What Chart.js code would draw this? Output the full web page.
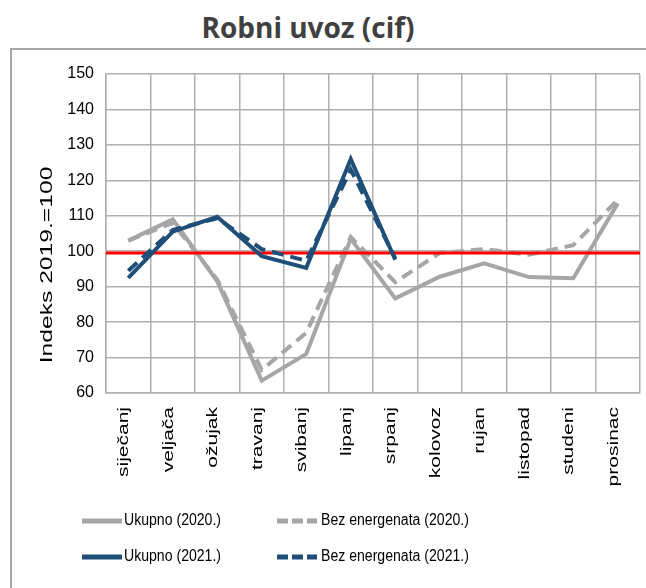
<!DOCTYPE html>
<html lang="hr">
<head>
    <meta charset="UTF-8">
    <title>Robni uvoz (cif)</title>
    <script src="https://cdn.jsdelivr.net/npm/chart.js"></script>
    <style>
        html, body {
            margin: 0;
            padding: 0;
            background: #fff;
            overflow: hidden;
        }
        .wrap {
            position: relative;
            width: 646px;
            height: 588px;
        }
        /* gray frame that runs off the right and bottom edge */
        .frame {
            position: absolute;
            left: 10px;
            top: 48px;
            width: 700px;
            height: 600px;
            border-left: 2px solid #a6a6a6;
            border-top: 2px solid #a6a6a6;
        }
        .title {
            position: absolute;
            left: 0;
            width: 616px;
            top: 13px;
            line-height: 28px;
            text-align: center;
            font-family: "Open Sans", sans-serif;
            font-weight: bold;
            font-size: 28px;
            color: #404040;
            white-space: nowrap;
        }
        #chart {
            position: absolute;
            left: 0;
            top: 0;
        }
    </style>
</head>
<body>
    <div class="wrap">
        <div class="frame"></div>
        <div class="title">Robni uvoz (cif)</div>
        <canvas id="chart" width="646" height="588"></canvas>
    </div>

    <script>
        // months
        var months = ['siječanj', 'veljača', 'ožujak', 'travanj', 'svibanj', 'lipanj',
                      'srpanj', 'kolovoz', 'rujan', 'listopad', 'studeni', 'prosinac'];

        // index values, 2019 = 100
        var ukupno2020 = [103, 109, 91.5, 63.5, 71, 103.5, 86.7, 92.8, 96.6, 92.7, 92.4, 113.5];
        var bezEnergenata2020 = [103, 108, 92, 66.5, 77, 104, 91.3, 99.5, 100.6, 99, 101.7, 114.5];
        var ukupno2021 = [92.5, 105.5, 109.7, 98.6, 95.3, 126, 97.6];
        var bezEnergenata2021 = [94.5, 106, 109.3, 100.6, 97.3, 123, 98];

        // reference line
        var refLevel = 99.5;

        var yTicks = [60, 70, 80, 90, 100, 110, 120, 130, 140, 150];
        var yTitle = 'Indeks 2019.=100';

        var gray = '#a6a6a6';
        var navy = '#1f4e79';
        var textFont = '"Liberation Sans", Arial, sans-serif';

        // rotated text in the original is drawn stretched along its length
        function drawRotated(ctx, text, x, y, align, stretch) {
            ctx.save();
            ctx.translate(x, y);
            ctx.rotate(-Math.PI / 2);
            ctx.scale(stretch, 1);
            ctx.textAlign = align;
            ctx.textBaseline = 'middle';
            ctx.fillText(text, 0, 0);
            ctx.restore();
        }

        // reference line drawn under the 2021 lines but over the 2020 lines
        var refLinePlugin = {
            id: 'refLine',
            beforeDatasetDraw: function(chart, args) {
                if (args.index !== 1) return;
                var ctx = chart.ctx;
                var y = chart.scales.y.getPixelForValue(refLevel);
                ctx.save();
                ctx.strokeStyle = '#ff0000';
                ctx.lineWidth = 3;
                ctx.beginPath();
                ctx.moveTo(chart.chartArea.left, y);
                ctx.lineTo(chart.chartArea.right, y);
                ctx.stroke();
                ctx.restore();
            }
        };

        // month labels and the y axis title
        var axisTextPlugin = {
            id: 'axisText',
            afterDraw: function(chart) {
                var ctx = chart.ctx;
                var xs = chart.scales.x;
                ctx.save();
                ctx.fillStyle = '#000';
                ctx.font = '15px ' + textFont;
                months.forEach(function(m, i) {
                    drawRotated(ctx, m, xs.getPixelForTick(i) - 4, chart.chartArea.bottom + 14, 'right', 1.4);
                });
                ctx.font = '17px ' + textFont;
                drawRotated(ctx, yTitle, 47, 265, 'center', 1.45);
                ctx.restore();
            }
        };

        // legend in two rows / two columns like the original
        var legendPlugin = {
            id: 'legend2x2',
            afterDraw: function(chart) {
                var ctx = chart.ctx;
                var order = [2, 3, 0, 1]; // Ukupno 2020, Bez 2020, Ukupno 2021, Bez 2021
                var cols = [82, 277];
                var rows = [521, 557];
                ctx.save();
                ctx.font = '16px ' + textFont;
                ctx.fillStyle = '#000';
                ctx.textBaseline = 'middle';
                order.forEach(function(di, i) {
                    var ds = chart.data.datasets[di];
                    var dashed = ds.borderDash && ds.borderDash.length;
                    var x = cols[i % 2];
                    var y = rows[Math.floor(i / 2)];
                    ctx.strokeStyle = ds.borderColor;
                    ctx.lineWidth = 5;
                    ctx.setLineDash(dashed ? [11, 4] : []);
                    ctx.beginPath();
                    ctx.moveTo(x, y);
                    ctx.lineTo(x + 40, y);
                    ctx.stroke();
                    ctx.setLineDash([]);
                    ctx.save();
                    ctx.translate(x + (dashed ? 44 : 42), y);
                    ctx.scale(0.88, 1);
                    ctx.fillText(ds.label, 0, 0);
                    ctx.restore();
                });
                ctx.restore();
            }
        };

        var ctx = document.getElementById('chart').getContext('2d');
        var chart = new Chart(ctx, {
            type: 'line',
            data: {
                labels: months,
                datasets: [{
                    label: 'Ukupno (2021.)',
                    data: ukupno2021,
                    borderColor: navy,
                    borderWidth: 4
                }, {
                    label: 'Bez energenata (2021.)',
                    data: bezEnergenata2021,
                    borderColor: navy,
                    borderWidth: 4,
                    borderDash: [12, 7]
                }, {
                    label: 'Ukupno (2020.)',
                    data: ukupno2020,
                    borderColor: gray,
                    borderWidth: 4
                }, {
                    label: 'Bez energenata (2020.)',
                    data: bezEnergenata2020,
                    borderColor: gray,
                    borderWidth: 4,
                    borderDash: [12, 7]
                }]
            },
            options: {
                responsive: false,
                animation: false,
                devicePixelRatio: 1,
                elements: {
                    point: { radius: 0 },
                    line: { tension: 0, fill: false }
                },
                layout: {
                    padding: { left: 30, right: 6, top: 74, bottom: 0 }
                },
                plugins: {
                    legend: { display: false },
                    tooltip: { enabled: false }
                },
                scales: {
                    x: {
                        offset: true,
                        grid: {
                            offset: true,
                            color: '#b0b0b0',
                            lineWidth: 1.5,
                            drawTicks: false
                        },
                        border: { color: '#b0b0b0', width: 1.5 },
                        ticks: { display: false },
                        afterFit: function(scale) { scale.height = 195; }
                    },
                    y: {
                        min: 60,
                        max: 150,
                        afterBuildTicks: function(scale) {
                            scale.ticks = yTicks.map(function(v) { return { value: v }; });
                        },
                        grid: {
                            color: '#b0b0b0',
                            lineWidth: 1.5,
                            drawTicks: false
                        },
                        border: { color: '#b0b0b0', width: 1.5 },
                        ticks: {
                            padding: 12,
                            color: '#000',
                            font: { family: textFont, size: 16 }
                        },
                        afterFit: function(scale) { scale.width = 76; }
                    }
                }
            },
            plugins: [refLinePlugin, axisTextPlugin, legendPlugin]
        });
    </script>
</body>
</html>
